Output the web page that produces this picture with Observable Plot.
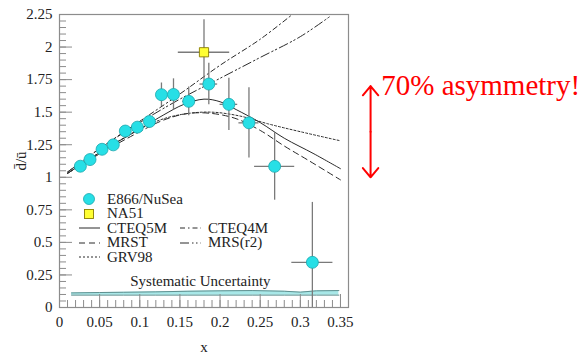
<!DOCTYPE html>
<html>
<head>
<meta charset="utf-8">
<script src="https://cdn.jsdelivr.net/npm/d3@7"></script>
<script src="https://cdn.jsdelivr.net/npm/@observablehq/plot@0.6"></script>
<style>
  body { margin: 0; background: #fff; }
  #wrap { position: relative; width: 586px; height: 353px; font-family: "Liberation Serif", "DejaVu Serif", "Noto Serif", "Times New Roman", Times, serif; }
  #wrap > svg { position: absolute; left: 0; top: 0; }
  #wrap .lg { position: absolute; font-size: 15px; line-height: 15px; color: #222; white-space: nowrap; display: flex; align-items: center; }
  #wrap .lg svg { position: static; display: block; margin-right: 6px; }
</style>
</head>
<body>
<div id="wrap"></div>
<script>
// E866/NuSea data
const e866X    = [0.026, 0.038, 0.053, 0.067, 0.082, 0.097, 0.112, 0.127, 0.142, 0.161, 0.186, 0.211, 0.236, 0.268, 0.315];
const e866Y    = [1.085, 1.136, 1.215, 1.249, 1.355, 1.385, 1.428, 1.634, 1.636, 1.583, 1.716, 1.560, 1.418, 1.084, 0.347];
const e866YErr = [0.03, 0.03, 0.03, 0.03, 0.04, 0.04, 0.05, 0.09, 0.12, 0.11, 0.16, 0.20, 0.27, 0.26, 0.46];
const e866XErr = [0.004, 0.004, 0.005, 0.005, 0.005, 0.005, 0.005, 0.006, 0.006, 0.0075, 0.011, 0.011, 0.0125, 0.025, 0.0256];

// NA51 data
const na51X = [0.18];
const na51Y = [1.96];
const na51YErr = [0.25];
const na51XErr = [0.032];

// Theory curves
const cteq5mX = [0.01, 0.05, 0.1, 0.13, 0.155, 0.18, 0.2, 0.22, 0.25, 0.28, 0.317, 0.35];
const cteq5mY = [1.03, 1.19, 1.37, 1.48, 1.56, 1.6, 1.58, 1.52, 1.42, 1.3, 1.18, 1.066];
const mrstX = [0.01, 0.05, 0.1, 0.13, 0.16, 0.19, 0.22, 0.25, 0.28, 0.31, 0.35];
const mrstY = [1.03, 1.18, 1.35, 1.44, 1.49, 1.49, 1.45, 1.36, 1.24, 1.13, 0.98];
const grv98X = [0.01, 0.05, 0.1, 0.13, 0.16, 0.19, 0.225, 0.26, 0.3, 0.35];
const grv98Y = [1.03, 1.19, 1.37, 1.45, 1.49, 1.5, 1.47, 1.41, 1.35, 1.28];
const cteq4mX = [0.01, 0.05, 0.1, 0.15, 0.2, 0.25, 0.29];
const cteq4mY = [1.04, 1.22, 1.43, 1.64, 1.86, 2.06, 2.25];
const mrsr2X = [0.01, 0.05, 0.1, 0.15, 0.2, 0.25, 0.3, 0.338];
const mrsr2Y = [1.04, 1.22, 1.42, 1.6, 1.76, 1.92, 2.08, 2.24];

// Systematic uncertainty band
const sysX    = [0.015, 0.05, 0.08, 0.12, 0.16, 0.2, 0.24, 0.28, 0.3, 0.32, 0.348];
const sysLow  = [0.095, 0.095, 0.095, 0.095, 0.095, 0.095, 0.095, 0.095, 0.095, 0.095, 0.095];
const sysHigh = [0.112, 0.115, 0.117, 0.12, 0.125, 0.128, 0.13, 0.125, 0.118, 0.128, 0.13];
const sysLabel = "Systematic Uncertainty";
const sysLabelX = [0.1755];
const sysLabelY = [0.2];

// Annotation
const annotText = "70% asymmetry!";
const annotArrowX = [0.3875];
const annotArrowY = [1.0, 1.7];
const annotTextX = [0.4008];
const annotTextY = [1.7];

// Ticks
const yTicks = [0, 0.25, 0.5, 0.75, 1, 1.25, 1.5, 1.75, 2, 2.25];
const yTickLabels = ["0", "0.25", "0.5", "0.75", "1", "1.25", "1.5", "1.75", "2", "2.25"];
const xTicks = [0, 0.05, 0.1, 0.15, 0.2, 0.25, 0.3, 0.35];
const xTickLabels = ["0", "0.05", "0.1", "0.15", "0.2", "0.25", "0.3", "0.35"];
const yMinor = d3.range(0, 2.2501, 0.05);
const xMinor = d3.range(0, 0.3601, 0.01);

// Legend
const legendLabels = ["E866/NuSea", "NA51", "CTEQ5M", "MRST", "GRV98", "CTEQ4M", "MRS(r2)"];

const e866 = e866X.map((x, i) => ({x, y: e866Y[i], ey: e866YErr[i], ex: e866XErr[i]}));
const na51 = na51X.map((x, i) => ({x, y: na51Y[i], ey: na51YErr[i], ex: na51XErr[i]}));
const mk = (xs, ys) => xs.map((x, i) => ({x, y: ys[i]}));
const sys = sysX.map((x, i) => ({x, y1: sysLow[i], y2: sysHigh[i]}));
const arrowMid = (annotArrowY[0] + annotArrowY[1]) / 2;
const arrows = annotArrowY.map(y => ({x: annotArrowX[0], y1: arrowMid, y2: y}));

const serif = "'Liberation Serif', 'DejaVu Serif', 'Noto Serif', 'Times New Roman', Times, serif";
const lineColor = "#2a2a2a";
const axisColor = "#8c8c8c";
const errColor = "#7a7a7a";
const dash = {
  cteq5m: null,
  mrst: "6,4",
  grv98: "2,2",
  cteq4m: "5,3,1.5,3",
  mrsr2: "9,3,1.5,2.5,1.5,3"
};

const plot = Plot.plot({
  width: 586,
  height: 353,
  marginLeft: 59,
  marginRight: 238,
  marginTop: 14,
  marginBottom: 46,
  x: {domain: [0, 0.36]},
  y: {domain: [0, 2.25]},
  style: {fontFamily: serif, fontSize: "15px", background: "transparent", overflow: "visible"},
  marks: [
    Plot.areaY(sys, {x: "x", y1: "y1", y2: "y2", fill: "#9fe6e6", fillOpacity: 0.9}),
    Plot.lineY(sys, {x: "x", y: "y2", stroke: "#5f8f8f", strokeWidth: 1}),
    Plot.lineY(sys, {x: "x", y: "y1", stroke: "#5f8f8f", strokeWidth: 1}),
    Plot.text([sysLabel], {x: sysLabelX, y: sysLabelY, text: d => d, fontSize: 15, fontFamily: serif, fill: "#222"}),

    Plot.line(mk(cteq5mX, cteq5mY), {x: "x", y: "y", stroke: lineColor, strokeWidth: 1, curve: "catmull-rom"}),
    Plot.line(mk(mrstX, mrstY), {x: "x", y: "y", stroke: lineColor, strokeWidth: 1, strokeDasharray: dash.mrst, curve: "catmull-rom"}),
    Plot.line(mk(grv98X, grv98Y), {x: "x", y: "y", stroke: lineColor, strokeWidth: 1, strokeDasharray: dash.grv98, curve: "catmull-rom"}),
    Plot.line(mk(cteq4mX, cteq4mY), {x: "x", y: "y", stroke: lineColor, strokeWidth: 1, strokeDasharray: dash.cteq4m, curve: "catmull-rom"}),
    Plot.line(mk(mrsr2X, mrsr2Y), {x: "x", y: "y", stroke: lineColor, strokeWidth: 1, strokeDasharray: dash.mrsr2, curve: "catmull-rom"}),

    Plot.ruleX(e866, {x: "x", y1: d => Math.max(0, d.y - d.ey), y2: d => d.y + d.ey, stroke: errColor, strokeWidth: 1.3}),
    Plot.ruleY(e866, {y: "y", x1: d => d.x - d.ex, x2: d => d.x + d.ex, stroke: errColor, strokeWidth: 1.3}),
    Plot.ruleX(na51, {x: "x", y1: d => d.y - d.ey, y2: d => d.y + d.ey, stroke: errColor, strokeWidth: 1.3}),
    Plot.ruleY(na51, {y: "y", x1: d => d.x - d.ex, x2: d => d.x + d.ex, stroke: errColor, strokeWidth: 1.3}),
    Plot.dot(e866, {x: "x", y: "y", r: 6, fill: "#27dfe6", stroke: "#1aa7ad", strokeWidth: 0.8}),
    Plot.dot(na51, {x: "x", y: "y", r: 5.2, symbol: "square", fill: "#ffff33", stroke: "#8a7d00", strokeWidth: 0.9}),

    Plot.frame({stroke: axisColor, strokeWidth: 1.2}),
    Plot.axisY(yMinor, {anchor: "left", tickSize: -7, text: null, label: null, stroke: axisColor}),
    Plot.axisY(yTicks, {anchor: "left", tickSize: -13, tickPadding: 20, stroke: axisColor, fill: "#222", fontSize: 15, fontFamily: serif,
      tickFormat: (d) => yTickLabels[yTicks.indexOf(d)], label: "d̄/ū", labelAnchor: "center", labelOffset: 44, labelArrow: "none"}),
    Plot.axisX(xMinor, {anchor: "bottom", tickSize: -7, text: null, label: null, stroke: axisColor}),
    Plot.axisX(xTicks, {anchor: "bottom", tickSize: -13, tickPadding: 22, stroke: axisColor, fill: "#222", fontSize: 15, fontFamily: serif,
      tickFormat: (d) => xTickLabels[xTicks.indexOf(d)], label: "x", labelAnchor: "center", labelOffset: 44, labelArrow: "none"}),

    Plot.arrow(arrows, {x: "x", y1: "y1", y2: "y2", stroke: "red", strokeWidth: 2, headLength: 9, headAngle: 80, bend: 0}),
    Plot.text([annotText], {x: annotTextX, y: annotTextY, text: d => d, textAnchor: "start", fontSize: 29, fontFamily: serif, fill: "red"})
  ]
});

const wrap = document.getElementById("wrap");
wrap.appendChild(plot);

// Legend overlay
function sample(kind) {
  const ns = "http://www.w3.org/2000/svg";
  const s = document.createElementNS(ns, "svg");
  s.setAttribute("width", 22); s.setAttribute("height", 12);
  let el;
  if (kind === "circle") {
    el = document.createElementNS(ns, "circle");
    el.setAttribute("cx", 10); el.setAttribute("cy", 6); el.setAttribute("r", 5.5);
    el.setAttribute("fill", "#27dfe6"); el.setAttribute("stroke", "#1aa7ad"); el.setAttribute("stroke-width", 0.8);
  } else if (kind === "square") {
    el = document.createElementNS(ns, "rect");
    el.setAttribute("x", 5.5); el.setAttribute("y", 1.5); el.setAttribute("width", 9); el.setAttribute("height", 9);
    el.setAttribute("fill", "#ffff33"); el.setAttribute("stroke", "#8a7d00"); el.setAttribute("stroke-width", 0.9);
  } else {
    el = document.createElementNS(ns, "line");
    el.setAttribute("x1", 0); el.setAttribute("x2", 21); el.setAttribute("y1", 6); el.setAttribute("y2", 6);
    el.setAttribute("stroke", lineColor); el.setAttribute("stroke-width", 1);
    if (dash[kind]) el.setAttribute("stroke-dasharray", dash[kind]);
  }
  s.appendChild(el);
  return s;
}
const legendKinds = ["circle", "square", "cteq5m", "mrst", "grv98", "cteq4m", "mrsr2"];
const legendPos = [[79, 199], [79, 213.5], [79, 228], [79, 242.5], [79, 257], [180, 228], [180, 242.5]];
legendLabels.forEach((lab, i) => {
  const d = document.createElement("div");
  d.className = "lg";
  d.style.left = legendPos[i][0] + "px";
  d.style.top = (legendPos[i][1] - 7.5) + "px";
  d.appendChild(sample(legendKinds[i]));
  const t = document.createElement("span");
  t.textContent = lab;
  d.appendChild(t);
  wrap.appendChild(d);
});
</script>
</body>
</html>
